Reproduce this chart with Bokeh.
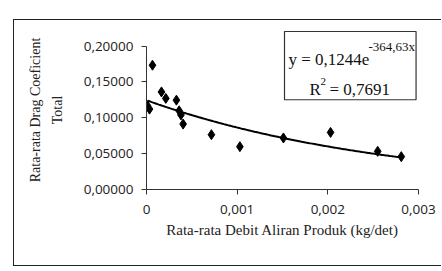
import numpy as np
from bokeh.plotting import figure
from bokeh.models import Label, FixedTicker
from bokeh.embed import file_html
from bokeh.resources import INLINE

# data
debit = [0.000010, 0.000033, 0.000066, 0.000165, 0.000213, 0.000330, 0.000360,
         0.000380, 0.000404, 0.000716, 0.001030, 0.001510, 0.002030, 0.002550, 0.002810]
drag = [0.1167, 0.1120, 0.1732, 0.1360, 0.1270, 0.1245, 0.1097,
        0.1040, 0.0912, 0.0764, 0.0597, 0.0718, 0.0796, 0.0532, 0.0458]

trend_a = 0.1244
trend_b = -364.63

x_ticks = [0, 0.001, 0.002, 0.003]
x_tick_labels = ["0", "0,001", "0,002", "0,003"]
y_ticks = [0, 0.05, 0.10, 0.15, 0.20]
y_tick_labels = ["0,00000", "0,05000", "0,10000", "0,15000", "0,20000"]

OX, OY = 14, 20          # canvas origin on the page (after margin + border)
W, H = 442 - OX, 267 - OY
FR_TOP, FR_BOT = 30, 189   # frame top/bottom on page
Y0_PIX, Y20_PIX = 189, 45.5
y_end = 0.2 * (FR_BOT - FR_TOP) / (Y0_PIX - Y20_PIX)

p = figure(width=W, height=H, output_backend="svg", toolbar_location=None,
           x_range=(0, 0.003), y_range=(0, y_end),
           min_border_left=146 - OX, min_border_right=442 - 418,
           min_border_top=FR_TOP - OY, min_border_bottom=H - (FR_BOT - OY),
           styles={"margin-left": "13px", "margin-top": "19px",
                   "border-left": "1px solid #222", "border-top": "1px solid #222",
                   "border-bottom": "1px solid #222"})
p.outline_line_color = None
p.xgrid.visible = False
p.ygrid.visible = False
p.background_fill_color = "white"
p.border_fill_color = "white"

# trend line
tx = np.linspace(min(debit), max(debit), 200)
ty = trend_a * np.exp(trend_b * tx)
p.line(tx, ty, line_color="black", line_width=2)

p.scatter(debit, drag, marker="diamond", size=10, color="black")

p.xaxis.ticker = FixedTicker(ticks=x_ticks)
p.xaxis.major_label_overrides = {t: l for t, l in zip(x_ticks, x_tick_labels)}
p.yaxis.ticker = FixedTicker(ticks=y_ticks)
p.yaxis.major_label_overrides = {t: l for t, l in zip(y_ticks, y_tick_labels)}
p.yaxis.bounds = (0, 0.2)
for ax in (p.xaxis[0], p.yaxis[0]):
    ax.minor_tick_line_color = None
    ax.major_tick_in = 0
    ax.major_tick_out = 5
    ax.axis_line_color = "#333333"
    ax.major_tick_line_color = "#333333"
    ax.major_label_text_font = "Open Sans"
    ax.major_label_text_font_size = "13.5px"
    ax.major_label_text_color = "#222222"
    ax.axis_label_text_font = "Liberation Serif"
    ax.axis_label_text_font_style = "normal"
    ax.axis_label_text_color = "#222222"

p.xaxis.axis_label = "Rata-rata Debit Aliran Produk (kg/det)"
p.xaxis.axis_label_text_font_size = "15px"
p.xaxis.major_label_standoff = 10
p.xaxis.axis_label_standoff = 5
p.yaxis.axis_label = "Rata-rata Drag Coeficient\nTotal"
p.yaxis.axis_label_text_font_size = "14px"
p.yaxis.axis_label_text_line_height = 1.45
p.yaxis.major_label_standoff = 8
p.yaxis.axis_label_standoff = 16

# equation box
p.add_layout(Label(x=283 - OX, y=30 - OY, x_units="canvas", y_units="canvas", text=" ",
                   text_font_size="2px", anchor="top_left",
                   padding=dict(left=0, right=131, top=0, bottom=66),
                   border_line_color="#333333", border_line_width=1.2,
                   background_fill_color="white"))

def lab(txt, x, y, size):
    p.add_layout(Label(x=x - OX, y=y - OY, x_units="canvas", y_units="canvas", text=txt,
                       text_font="Liberation Serif", text_font_size=size,
                       text_color="#111111", text_baseline="alphabetic", text_align="left"))

lab("y = 0,1244e", 287, 58, "17px")
lab("-364,63x", 367, 45, "13px")
lab("R", 308, 88, "17px")
lab("2", 319, 80, "11px")
lab("= 0,7691", 328, 88, "17px")

open("out.html", "w").write(file_html(p, INLINE))
